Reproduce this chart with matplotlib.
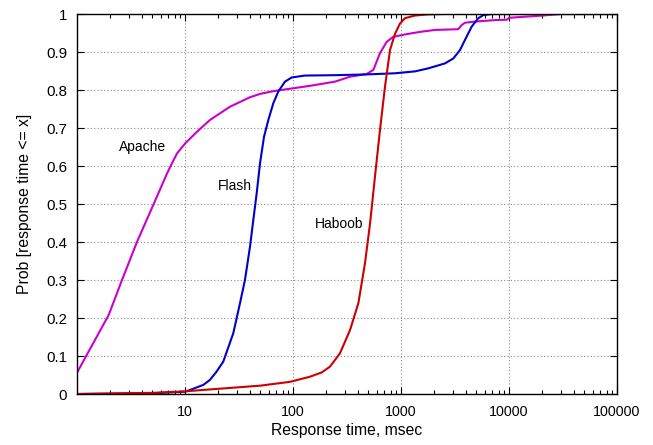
import matplotlib
matplotlib.use("Agg")
import matplotlib.pyplot as plt
from matplotlib.ticker import FixedLocator, LogLocator, NullFormatter

plt.rcParams['font.family'] = ['Liberation Sans', 'DejaVu Sans']

apache_x = [1.0, 1.966, 2.61, 3.59, 5.13, 6.81, 7.6, 8.43, 10.07, 12.9, 17.0, 26.1, 40, 50,
            65.7, 97.3, 143.7, 245, 337, 481, 555, 639, 738, 849, 1129, 1500, 2063, 3390,
            3648, 3914, 4842, 7416, 9550, 10000, 20600, 30000, 100000]
apache_y = [0.056, 0.208, 0.30, 0.40, 0.50, 0.58, 0.608, 0.633, 0.66, 0.69, 0.721, 0.756,
            0.781, 0.79, 0.797, 0.804, 0.811, 0.822, 0.835, 0.842, 0.853, 0.897, 0.927, 0.94,
            0.947, 0.953, 0.958, 0.96, 0.971, 0.977, 0.98, 0.984, 0.985, 0.99, 0.996, 1.0, 1.0]

flash_x = [1.0, 5.0, 10.0, 11.1, 14.8, 17.0, 19.5, 22.6, 28.0, 32.3, 35.9, 40.0, 42.9, 46.1,
           49.5, 53.9, 59.1, 65.7, 73.1, 84.3, 97.3, 129, 245, 481, 880, 1349, 1790, 2555,
           3050, 3517, 3914, 4517, 5200, 5780, 6918, 100000]
flash_y = [0.0, 0.002, 0.006, 0.0105, 0.024, 0.037, 0.058, 0.085, 0.16, 0.239, 0.30, 0.388,
           0.458, 0.528, 0.607, 0.677, 0.721, 0.765, 0.796, 0.822, 0.833, 0.838, 0.839, 0.841,
           0.844, 0.849, 0.857, 0.87, 0.883, 0.905, 0.932, 0.967, 0.989, 0.997, 1.0, 1.0]

haboob_x = [1.0, 5.0, 10.0, 17.0, 50.0, 93.8, 143.7, 185, 220, 272, 337, 403, 464, 517, 574,
            639, 711, 791, 880, 979, 1089, 1349, 1790, 2555, 100000]
haboob_y = [0.0, 0.003, 0.007, 0.012, 0.022, 0.032, 0.0455, 0.057, 0.072, 0.107, 0.168, 0.239,
            0.344, 0.449, 0.572, 0.695, 0.809, 0.905, 0.948, 0.975, 0.989, 0.996, 0.999, 1.0,
            1.0]

labels = ["Apache", "Flash", "Haboob"]
label_pos_x = [4.08, 29.0, 269.0]
label_pos_y = [0.65, 0.547, 0.447]

colors = {"Apache": "#cc00cc", "Flash": "#0000cc", "Haboob": "#cc0000"}

fig = plt.figure(figsize=(6.53, 4.45), dpi=100)
ax = fig.add_axes([77/653, 1-394/445, (617-77)/653, (394-14)/445])

ax.plot(apache_x, apache_y, color=colors["Apache"], lw=1.5, solid_joinstyle='round')
ax.plot(flash_x, flash_y, color=colors["Flash"], lw=1.5, solid_joinstyle='round')
ax.plot(haboob_x, haboob_y, color=colors["Haboob"], lw=1.5, solid_joinstyle='round')

for name, lx, ly in zip(labels, label_pos_x, label_pos_y):
    ax.text(lx, ly, name, ha='center', va='center', fontsize=10)

ax.set_xscale('log')
ax.set_xlim(1, 100000)
ax.set_ylim(0, 1)

xt = [10, 100, 1000, 10000, 100000]
ax.xaxis.set_major_locator(FixedLocator(xt))
ax.set_xticklabels([str(v) for v in xt])
ax.xaxis.set_minor_locator(LogLocator(base=10, subs=range(2, 10), numticks=20))
ax.xaxis.set_minor_formatter(NullFormatter())
yt = [i/10 for i in range(11)]
ax.set_yticks(yt)
ax.set_yticklabels(["0"] + ["%.1f" % v for v in yt[1:-1]] + ["1"])

ax.tick_params(which='both', direction='in', top=True, right=True, colors='black')
ax.tick_params(axis='x', labelsize=10.3, pad=8)
ax.tick_params(axis='y', labelsize=10.8, pad=7)
ax.tick_params(which='major', length=5, width=0.8)
ax.tick_params(which='minor', length=3, width=0.8)

ax.grid(True, which='major', linestyle=(0, (1, 2)), color='#888888', lw=0.8)
for s in ax.spines.values():
    s.set_linewidth(1.0)

ax.set_xlabel("Response time, msec", fontsize=11.3, labelpad=3)
ax.set_ylabel("Prob [response time <= x]", fontsize=11.3, labelpad=10)

fig.savefig("out.png", dpi=100)
